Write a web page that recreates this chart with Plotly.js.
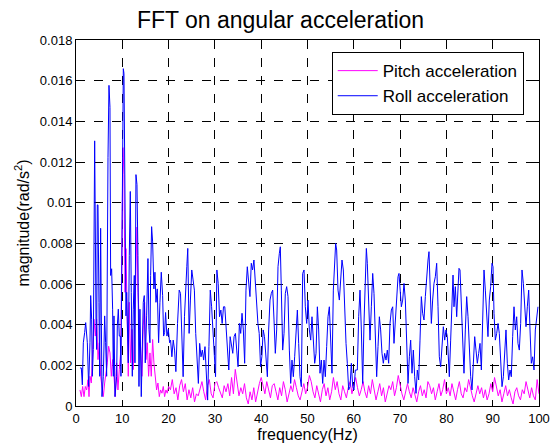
<!DOCTYPE html>
<html>
<head>
<meta charset="utf-8">
<script src="https://cdn.plot.ly/plotly-3.0.1.min.js"></script>
<style>html,body{margin:0;padding:0;background:#fff;}#chart{width:550px;height:447px;}</style>
</head>
<body>
<div id="chart"></div>
<script>
// Values in units of 1e-3 rad/s^2
const rollFreq = [
0.86,1.15,1.37,1.58,1.87,2.09,2.45,2.73,3.02,3.17,3.38,3.53,3.74,4.03,4.32,4.46,4.60,4.75,4.96,5.11,
5.32,5.61,5.90,6.19,6.40,6.62,6.91,7.12,7.34,7.48,7.70,7.91,8.06,8.20,8.42,8.63,8.78,8.92,9.14,9.35,
9.57,9.71,9.93,10.22,10.36,10.58,10.79,10.94,11.08,11.29,11.51,11.73,11.94,12.16,12.37,12.59,12.73,12.95,13.17,13.38,
13.60,13.81,14.10,14.32,14.53,14.75,14.96,15.25,15.54,15.76,15.97,16.12,16.33,16.55,16.69,16.83,17.05,17.27,17.55,17.84,
18.13,18.42,18.71,18.92,19.14,19.35,19.64,19.93,20.22,
20.43,20.71,21.00,21.29,21.57,21.93,22.29,22.57,22.86,23.14,23.43,23.71,23.93,24.14,24.43,24.71,25.00,25.29,25.57,25.86,
26.14,26.43,26.71,27.00,27.29,27.57,27.86,28.14,28.43,28.71,29.00,29.29,29.57,29.86,30.14,30.43,30.71,31.00,31.29,31.57,
31.86,32.14,32.43,32.71,33.00,33.29,33.57,33.86,34.14,34.43,34.71,35.00,35.29,35.57,35.86,36.14,36.43,36.71,37.00,37.29,
37.57,37.86,38.14,38.43,38.71,39.00,39.29,39.57,39.86,40.14,40.43,40.71,
41.04,41.33,41.61,41.90,42.19,42.48,42.77,43.05,43.34,43.63,43.92,44.13,44.35,44.64,44.93,45.21,45.50,45.79,46.08,46.37,
46.65,46.94,47.23,47.52,47.81,48.09,48.38,48.67,48.96,49.25,49.53,49.82,50.11,50.40,50.69,50.97,51.26,51.55,51.84,52.13,
52.41,52.70,52.99,53.28,53.57,53.85,54.14,54.43,54.72,55.00,55.29,55.58,55.87,56.08,56.30,56.59,56.88,57.17,57.45,57.74,
58.03,58.32,58.60,58.89,59.18,59.47,59.76,60.04,60.33,
60.76,61.05,61.34,61.63,61.92,62.20,62.49,62.71,62.92,63.21,63.50,63.79,64.08,64.36,64.65,64.94,65.23,65.52,65.80,66.09,
66.38,66.67,66.96,67.24,67.53,67.82,68.11,68.40,68.68,68.97,69.26,69.55,69.76,69.98,70.27,70.56,70.84,71.13,71.42,71.71,
72.00,72.28,72.57,72.86,73.15,73.44,73.72,74.01,74.30,74.59,74.87,75.16,75.45,75.74,76.03,76.24,76.46,76.75,77.03,77.32,
77.61,77.90,78.19,78.47,78.76,79.05,79.34,79.63,79.91,80.20,
80.63,80.92,81.21,81.43,81.64,81.93,82.22,82.51,82.72,82.94,83.23,83.51,83.80,84.09,84.38,84.67,84.95,85.24,85.53,85.82,
86.11,86.39,86.68,86.97,87.26,87.55,87.83,88.12,88.41,88.70,88.98,89.27,89.56,89.85,90.07,90.28,90.57,90.86,91.15,91.43,
91.72,92.01,92.30,92.58,92.87,93.16,93.45,93.74,94.02,94.31,94.60,94.89,95.18,95.46,95.75,96.04,96.33,96.62,96.90,97.19,
97.48,97.77,98.06,98.34,98.63,98.92,99.21,99.50,99.78
];
const rollMag = [
1.87,1.87,1.04,3.11,3.61,4.10,3.11,0.96,3.11,5.43,4.27,1.46,2.78,13.04,4.27,2.78,9.89,9.89,5.10,1.46,
8.74,0.46,1.46,4.43,3.11,1.46,12.21,15.77,14.69,6.42,6.75,4.76,1.46,4.43,0.46,1.46,1.46,3.94,4.76,3.44,
3.44,1.46,10.55,16.59,16.35,9.73,4.43,5.59,3.11,2.12,7.41,10.55,5.59,1.46,4.76,6.42,2.12,11.38,10.89,7.41,
0.96,4.76,0.46,3.11,5.10,5.43,2.12,4.43,7.25,3.77,3.11,6.42,8.82,8.07,6.42,5.76,6.58,5.10,5.76,3.11,
5.10,6.58,5.43,3.44,3.61,4.60,3.44,3.77,3.11,
3.24,2.42,3.24,2.75,1.69,4.06,5.70,5.54,3.24,1.44,4.39,6.36,6.85,7.75,3.57,5.21,6.69,6.20,5.70,3.57,
2.42,1.11,3.08,2.42,2.75,2.26,2.92,1.44,0.29,2.92,5.70,4.88,3.57,2.10,1.44,6.69,6.03,4.39,4.72,4.06,
4.88,4.88,3.74,2.75,1.77,3.41,3.08,2.59,3.41,3.57,2.75,1.93,4.06,3.57,4.56,3.74,2.10,5.70,6.85,6.20,
5.38,7.02,6.69,7.18,6.03,4.88,4.06,3.57,1.93,2.42,3.74,3.41,
2.42,1.44,3.74,5.21,5.54,5.70,4.23,2.59,3.74,6.85,7.51,7.83,5.70,2.75,3.57,5.54,5.87,5.38,2.75,1.11,
2.26,1.44,2.42,3.74,4.72,3.08,1.44,0.95,6.52,6.69,4.88,4.06,5.21,3.74,3.24,4.39,2.92,2.10,2.59,4.88,
3.74,1.61,2.26,1.11,2.26,1.44,2.92,4.39,4.88,3.24,1.61,5.70,7.02,8.00,7.67,5.70,5.21,6.52,7.18,6.69,
4.39,3.08,2.10,0.79,0.95,2.10,0.95,0.79,1.77,
1.77,4.39,5.70,3.74,1.11,4.06,6.36,7.75,7.02,5.21,3.24,4.88,6.52,5.54,3.24,1.44,2.92,4.39,3.74,2.59,
2.10,2.59,2.26,2.75,2.10,4.06,4.72,4.88,3.08,4.39,5.70,6.36,6.52,5.54,4.88,5.21,6.03,5.21,2.75,1.11,
2.42,3.24,1.61,2.75,1.44,0.62,1.77,1.28,3.24,5.38,4.56,4.23,5.38,6.52,7.18,7.59,5.70,4.06,5.21,6.03,
6.36,7.02,4.88,2.42,1.93,3.24,3.90,3.24,3.74,3.41,
1.44,3.24,5.70,6.44,4.88,5.87,4.39,5.54,6.77,6.69,4.88,3.24,1.61,3.74,5.38,4.39,2.75,1.44,0.79,2.42,
3.41,2.75,2.10,2.59,3.08,1.77,3.74,6.69,5.70,4.39,3.41,5.21,5.87,7.02,6.85,4.56,3.24,3.57,4.06,3.57,
2.10,0.95,1.44,2.42,3.74,2.10,1.28,1.77,1.44,3.41,4.88,3.74,4.39,3.08,2.75,4.06,6.69,6.03,5.21,3.90,
4.88,5.70,3.74,2.10,2.42,1.77,3.74,4.39,4.88
];

const pitchFreq = [
0.86,1.15,1.44,1.73,2.01,2.30,2.59,2.81,3.02,3.31,3.60,3.88,4.17,4.46,4.75,5.04,5.32,5.61,5.90,6.19,
6.47,6.76,7.05,7.34,7.63,7.91,8.20,8.49,8.78,9.06,9.35,9.64,9.93,10.14,10.36,10.58,10.79,11.08,11.29,11.51,
11.80,12.09,12.37,12.66,12.95,13.17,13.38,13.67,13.96,14.24,14.53,14.82,15.11,15.40,15.68,15.97,16.26,16.55,16.83,17.12,
17.41,17.70,17.99,18.27,18.56,18.85,19.14,19.42,19.71,20.00,
20.4,20.8,21.2,21.6,22.0,22.4,22.8,23.2,23.6,24.0,24.4,24.8,25.2,25.6,26.0,26.4,26.8,27.2,27.6,28.0,
28.4,28.8,29.2,29.6,30.0,30.4,30.8,31.2,31.6,32.0,32.4,32.8,33.2,33.6,34.0,34.4,34.8,35.2,35.6,36.0,
36.4,36.8,37.2,37.6,38.0,38.4,38.8,39.2,39.6,40.0,
40.4,40.8,41.2,41.6,42.0,42.4,42.8,43.2,43.6,44.0,44.4,44.8,45.2,45.6,46.0,46.4,46.8,47.2,47.6,48.0,
48.4,48.8,49.2,49.6,50.0,50.4,50.8,51.2,51.6,52.0,52.4,52.8,53.2,53.6,54.0,54.4,54.8,55.2,55.6,56.0,
56.4,56.8,57.2,57.6,58.0,58.4,58.8,59.2,59.6,60.0,
60.4,60.8,61.2,61.6,62.0,62.4,62.8,63.2,63.6,64.0,64.4,64.8,65.2,65.6,66.0,66.4,66.8,67.2,67.6,68.0,
68.4,68.8,69.2,69.6,70.0,70.4,70.8,71.2,71.6,72.0,72.4,72.8,73.2,73.6,74.0,74.4,74.8,75.2,75.6,76.0,
76.4,76.8,77.2,77.6,78.0,78.4,78.8,79.2,79.6,80.0,
80.4,80.8,81.2,81.6,82.0,82.4,82.8,83.2,83.6,84.0,84.4,84.8,85.2,85.6,86.0,86.4,86.8,87.2,87.6,88.0,
88.4,88.8,89.2,89.6,90.0,90.4,90.8,91.2,91.6,92.0,92.4,92.8,93.2,93.6,94.0,94.4,94.8,95.2,95.6,96.0,
96.4,96.8,97.2,97.6,98.0,98.4,98.8,99.2,99.6,100.0
];
const pitchMag = [
0.79,0.46,0.96,0.46,0.96,0.79,1.29,0.46,1.46,1.13,2.78,4.27,3.44,4.27,2.28,3.11,1.46,0.79,0.46,1.13,
1.62,2.12,2.94,2.61,1.46,2.28,1.46,0.46,2.12,0.79,1.79,2.61,8.07,12.71,11.38,5.59,7.74,3.94,1.46,5.10,
2.12,3.77,1.79,3.94,6.42,8.80,5.59,3.94,2.28,1.46,3.94,5.10,2.28,3.11,1.46,2.61,1.46,3.27,2.12,1.46,
0.79,1.13,0.46,0.79,0.63,0.96,0.46,0.79,0.63,0.96,
0.8,1.3,0.6,0.9,0.3,1.0,1.3,0.7,1.1,0.3,0.8,0.4,0.9,0.2,0.6,0.5,0.8,1.2,0.7,0.3,
1.0,1.3,0.6,0.4,1.1,1.2,0.9,0.6,0.4,1.0,0.7,1.1,0.5,1.4,0.6,1.8,1.2,0.5,0.9,0.6,
1.1,0.4,0.1,0.7,0.3,0.9,0.2,0.7,1.1,1.4,
0.9,0.6,1.2,0.8,0.4,1.0,1.1,0.7,0.3,0.9,0.5,1.2,0.8,0.2,0.6,1.0,0.7,1.3,0.9,0.5,
0.3,0.8,1.1,0.6,0.9,1.5,1.2,0.7,0.4,1.0,0.6,0.2,0.8,1.1,0.5,0.9,0.3,0.7,1.4,0.8,
1.2,0.6,0.3,1.0,0.7,0.4,0.9,1.2,0.6,1.1,
1.4,0.9,0.5,0.8,1.2,0.7,0.4,1.0,0.6,1.3,0.8,0.3,0.7,1.1,0.5,0.9,0.2,0.6,1.0,0.8,
1.2,0.5,0.9,1.5,1.0,0.6,0.3,0.8,1.1,0.7,0.4,0.9,0.6,0.2,0.7,1.0,0.5,0.8,0.4,1.2,
1.0,0.6,0.9,0.3,0.7,1.1,0.5,0.8,1.3,0.6,
0.9,0.5,1.1,0.7,0.3,0.8,1.2,0.6,0.4,0.9,0.7,1.3,0.8,0.5,0.2,0.7,1.0,0.6,0.9,0.4,
0.8,0.3,0.6,1.1,0.7,1.4,0.9,0.5,0.8,0.2,0.6,1.0,0.5,0.8,0.4,0.1,0.7,0.9,0.5,0.3,
0.8,0.6,1.2,0.7,0.4,0.9,0.5,0.3,1.3,0.6
];

const seriesNames = ["Pitch acceleration", "Roll acceleration"];
const xTicks = [0,10,20,30,40,50,60,70,80,90,100];
const yTicks = [0,0.002,0.004,0.006,0.008,0.01,0.012,0.014,0.016,0.018];

const toSI = a => a.map(v => v / 1000); // mrad/s^2 -> rad/s^2

const font = "Liberation Sans, Arial, Helvetica, sans-serif";
const axisCommon = {
  showline: true, linecolor: "#000", linewidth: 1, mirror: "ticks",
  ticks: "inside", ticklen: 5, tickcolor: "#000",
  showgrid: true, gridcolor: "#000", griddash: "dash", gridwidth: 1,
  zeroline: false, tickfont: {family: font, size: 13, color: "#000"}
};

const traces = [
  {x: pitchFreq, y: toSI(pitchMag), type: "scatter", mode: "lines", name: seriesNames[0],
   line: {color: "#ff00ff", width: 1}},
  {x: rollFreq, y: toSI(rollMag), type: "scatter", mode: "lines", name: seriesNames[1],
   line: {color: "#0000ff", width: 1}}
];

const layout = {
  width: 550, height: 447,
  margin: {l: 76, r: 11, t: 40, b: 41},
  paper_bgcolor: "#fff", plot_bgcolor: "#fff",
  font: {family: font, color: "#000"},
  title: {text: "FFT on angular acceleration", font: {family: font, size: 23, color: "#000"},
          x: 0.51, xanchor: "center", y: 0.955, yanchor: "middle"},
  xaxis: Object.assign({}, axisCommon, {range: [0, 100], tickvals: xTicks,
          title: {text: "frequency(Hz)", font: {family: font, size: 16}, standoff: 3}}),
  yaxis: Object.assign({}, axisCommon, {range: [0, 0.018], tickvals: yTicks,
          title: {text: "magnitude(rad/s<sup>2</sup>)", font: {family: font, size: 16}, standoff: 6}}),
  showlegend: true,
  legend: {x: 0.967, xanchor: "right", y: 0.967, yanchor: "top",
           bgcolor: "#fff", bordercolor: "#000", borderwidth: 1,
           font: {family: font, size: 17, color: "#000"}, tracegroupgap: 0, itemwidth: 40}
};

Plotly.newPlot("chart", traces, layout, {displayModeBar: false, staticPlot: true});
</script>
</body>
</html>
